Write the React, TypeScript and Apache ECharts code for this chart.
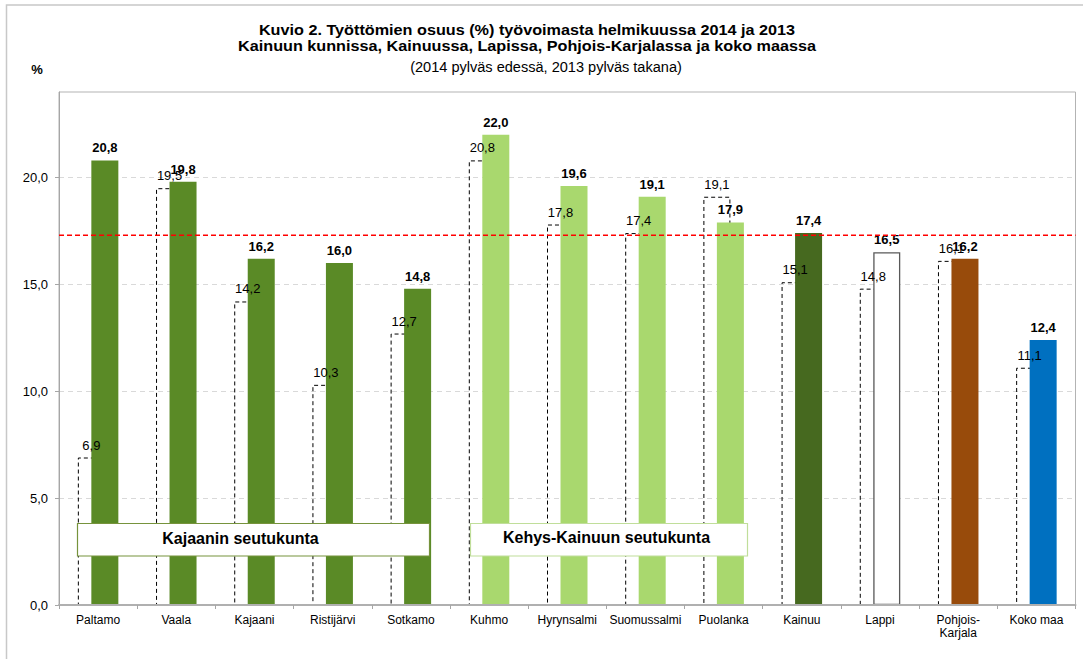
import React, { useEffect, useRef } from "react";
import * as echarts from "echarts";

const categories = [
  "Paltamo",
  "Vaala",
  "Kajaani",
  "Ristijärvi",
  "Sotkamo",
  "Kuhmo",
  "Hyrynsalmi",
  "Suomussalmi",
  "Puolanka",
  "Kainuu",
  "Lappi",
  "Pohjois-\nKarjala",
  "Koko maa",
];
const values2014 = [20.8, 19.8, 16.2, 16.0, 14.8, 22.0, 19.6, 19.1, 17.9, 17.4, 16.5, 16.2, 12.4];
const values2013 = [6.9, 19.5, 14.2, 10.3, 12.7, 20.8, 17.8, 17.4, 19.1, 15.1, 14.8, 16.1, 11.1];
const colors2014 = [
  "#5A8A26", "#5A8A26", "#5A8A26", "#5A8A26", "#5A8A26",
  "#A9D86E", "#A9D86E", "#A9D86E", "#A9D86E",
  "#46691F", "#FFFFFF", "#984B0B", "#0070C0",
];
const referenceLevel = 17.3;
const referenceSpan = [0, 1];
const yMin = 0;
const yMax = 24;
const yInterval = 5;

const FONT = "'Liberation Sans', Arial, sans-serif";
const fmt = (v: number) => v.toFixed(1).replace(".", ",");

export default function App() {
  const ref = useRef<HTMLDivElement>(null);
  useEffect(() => {
    if (!ref.current) return;
    const chart = echarts.init(ref.current, null, { renderer: "svg" });
    const option: any = {
      animation: false,
      backgroundColor: "#fff",
      textStyle: { fontFamily: FONT },
      grid: {
        left: 59,
        right: 7.5,
        top: 92,
        bottom: 54,
        show: true,
        borderColor: "#B3B3B3",
        borderWidth: 1,
        containLabel: false,
        outerBoundsMode: "none",
      },
      xAxis: [
        {
          type: "category",
          data: categories,
          z: 5,
          axisLine: { lineStyle: { color: "#B0B0B0", width: 2 } },
          axisTick: { show: true, length: 4, lineStyle: { color: "#A6A6A6" } },
          axisLabel: {
            color: "#000",
            fontSize: 12,
            fontFamily: FONT,
            margin: 8,
            lineHeight: 13,
            interval: 0,
          },
        },
        {
          type: "value",
          min: referenceSpan[0],
          max: referenceSpan[1],
          show: false,
          position: "top",
        },
      ],
      yAxis: {
        type: "value",
        min: yMin,
        max: yMax,
        interval: yInterval,
        axisLine: { show: true, lineStyle: { color: "#A6A6A6", width: 1 } },
        axisTick: { show: true, length: 4, lineStyle: { color: "#A6A6A6" } },
        splitLine: { show: true, lineStyle: { color: "#D9D9D9", type: [5, 4], width: 1 } },
        axisLabel: {
          color: "#000",
          fontSize: 13,
          fontFamily: FONT,
          margin: 11,
          showMaxLabel: false,
          formatter: (v: number) => (v % yInterval === 0 ? fmt(v) : ""),
        },
      },
      series: [
        {
          name: "2013",
          type: "bar",
          barWidth: 27,
          barGap: "-50%",
          data: values2013,
          itemStyle: {
            color: "rgba(0,0,0,0)",
            borderColor: "#000",
            borderWidth: 1,
            borderType: [4, 3],
          },
          label: {
            show: true,
            position: "top",
            distance: 6,
            color: "#000",
            fontSize: 13,
            fontFamily: FONT,
            formatter: (p: any) => fmt(p.value),
          },
        },
        {
          name: "2014",
          type: "bar",
          barWidth: 27,
          barGap: "-50%",
          data: values2014.map((v, i) => ({
            value: v,
            itemStyle:
              colors2014[i] === "#FFFFFF"
                ? { color: "#FFFFFF", borderColor: "#595959", borderWidth: 1.3 }
                : { color: colors2014[i] },
          })),
          label: {
            show: true,
            position: "top",
            distance: 6,
            color: "#000",
            fontSize: 13,
            fontWeight: "bold",
            fontFamily: FONT,
            formatter: (p: any) => fmt(p.value),
          },
        },
        {
          name: "reference",
          type: "line",
          xAxisIndex: 1,
          z: 4,
          silent: true,
          symbol: "none",
          showSymbol: false,
          color: "#FF0000",
          itemStyle: { color: "#FF0000" },
          lineStyle: { color: "#FF0000", type: [5, 3], width: 1.4 },
          data: referenceSpan.map((x) => [x, referenceLevel]),
        },
      ],
      graphic: [
        {
          type: "rect",
          z: -10,
          silent: true,
          shape: { x: 6.5, y: 5, width: 1100, height: 700 },
          style: { fill: "none", stroke: "#C8C8C8", lineWidth: 1.5 },
        },
        {
          type: "text",
          x: 527,
          y: 30,
          scaleX: 1.08,
          style: {
            text: "Kuvio 2. Työttömien osuus (%) työvoimasta helmikuussa 2014 ja 2013",
            font: `bold 15px ${FONT}`,
            fill: "#000",
            textAlign: "center",
            textVerticalAlign: "middle",
          },
        },
        {
          type: "text",
          x: 527,
          y: 45.5,
          scaleX: 1.08,
          style: {
            text: "Kainuun kunnissa, Kainuussa, Lapissa, Pohjois-Karjalassa ja koko maassa",
            font: `bold 15px ${FONT}`,
            fill: "#000",
            textAlign: "center",
            textVerticalAlign: "middle",
          },
        },
        {
          type: "text",
          x: 546,
          y: 67,
          scaleX: 1.04,
          style: {
            text: "(2014 pylväs edessä, 2013 pylväs takana)",
            font: `14px ${FONT}`,
            fill: "#000",
            textAlign: "center",
            textVerticalAlign: "middle",
          },
        },
        {
          type: "text",
          x: 37,
          y: 69,
          style: {
            text: "%",
            font: `bold 13px ${FONT}`,
            fill: "#000",
            textAlign: "center",
            textVerticalAlign: "middle",
          },
        },
        {
          type: "group",
          z: 100,
          children: [
            {
              type: "rect",
              z: 100,
              shape: { x: 77.5, y: 523.5, width: 352, height: 32.5 },
              style: { fill: "#FFFFFF", stroke: "#76933C", lineWidth: 1.2 },
            },
            {
              type: "text",
              z: 101,
              x: 240.5,
              y: 538.5,
              style: {
                text: "Kajaanin seutukunta",
                font: `bold 16px ${FONT}`,
                fill: "#000",
                textAlign: "center",
                textVerticalAlign: "middle",
              },
            },
            {
              type: "rect",
              z: 100,
              shape: { x: 470.5, y: 523.5, width: 277, height: 32.5 },
              style: { fill: "#FFFFFF", stroke: "#C0DE9A", lineWidth: 1.2 },
            },
            {
              type: "text",
              z: 101,
              x: 606.5,
              y: 537,
              style: {
                text: "Kehys-Kainuun seutukunta",
                font: `bold 16px ${FONT}`,
                fill: "#000",
                textAlign: "center",
                textVerticalAlign: "middle",
              },
            },
          ],
        },
      ],
    };
    chart.setOption(option);
    return () => chart.dispose();
  }, []);
  return (
    <div
      ref={ref}
      style={{ position: "fixed", left: 0, top: 0, width: 1083, height: 659 }}
    />
  );
}
